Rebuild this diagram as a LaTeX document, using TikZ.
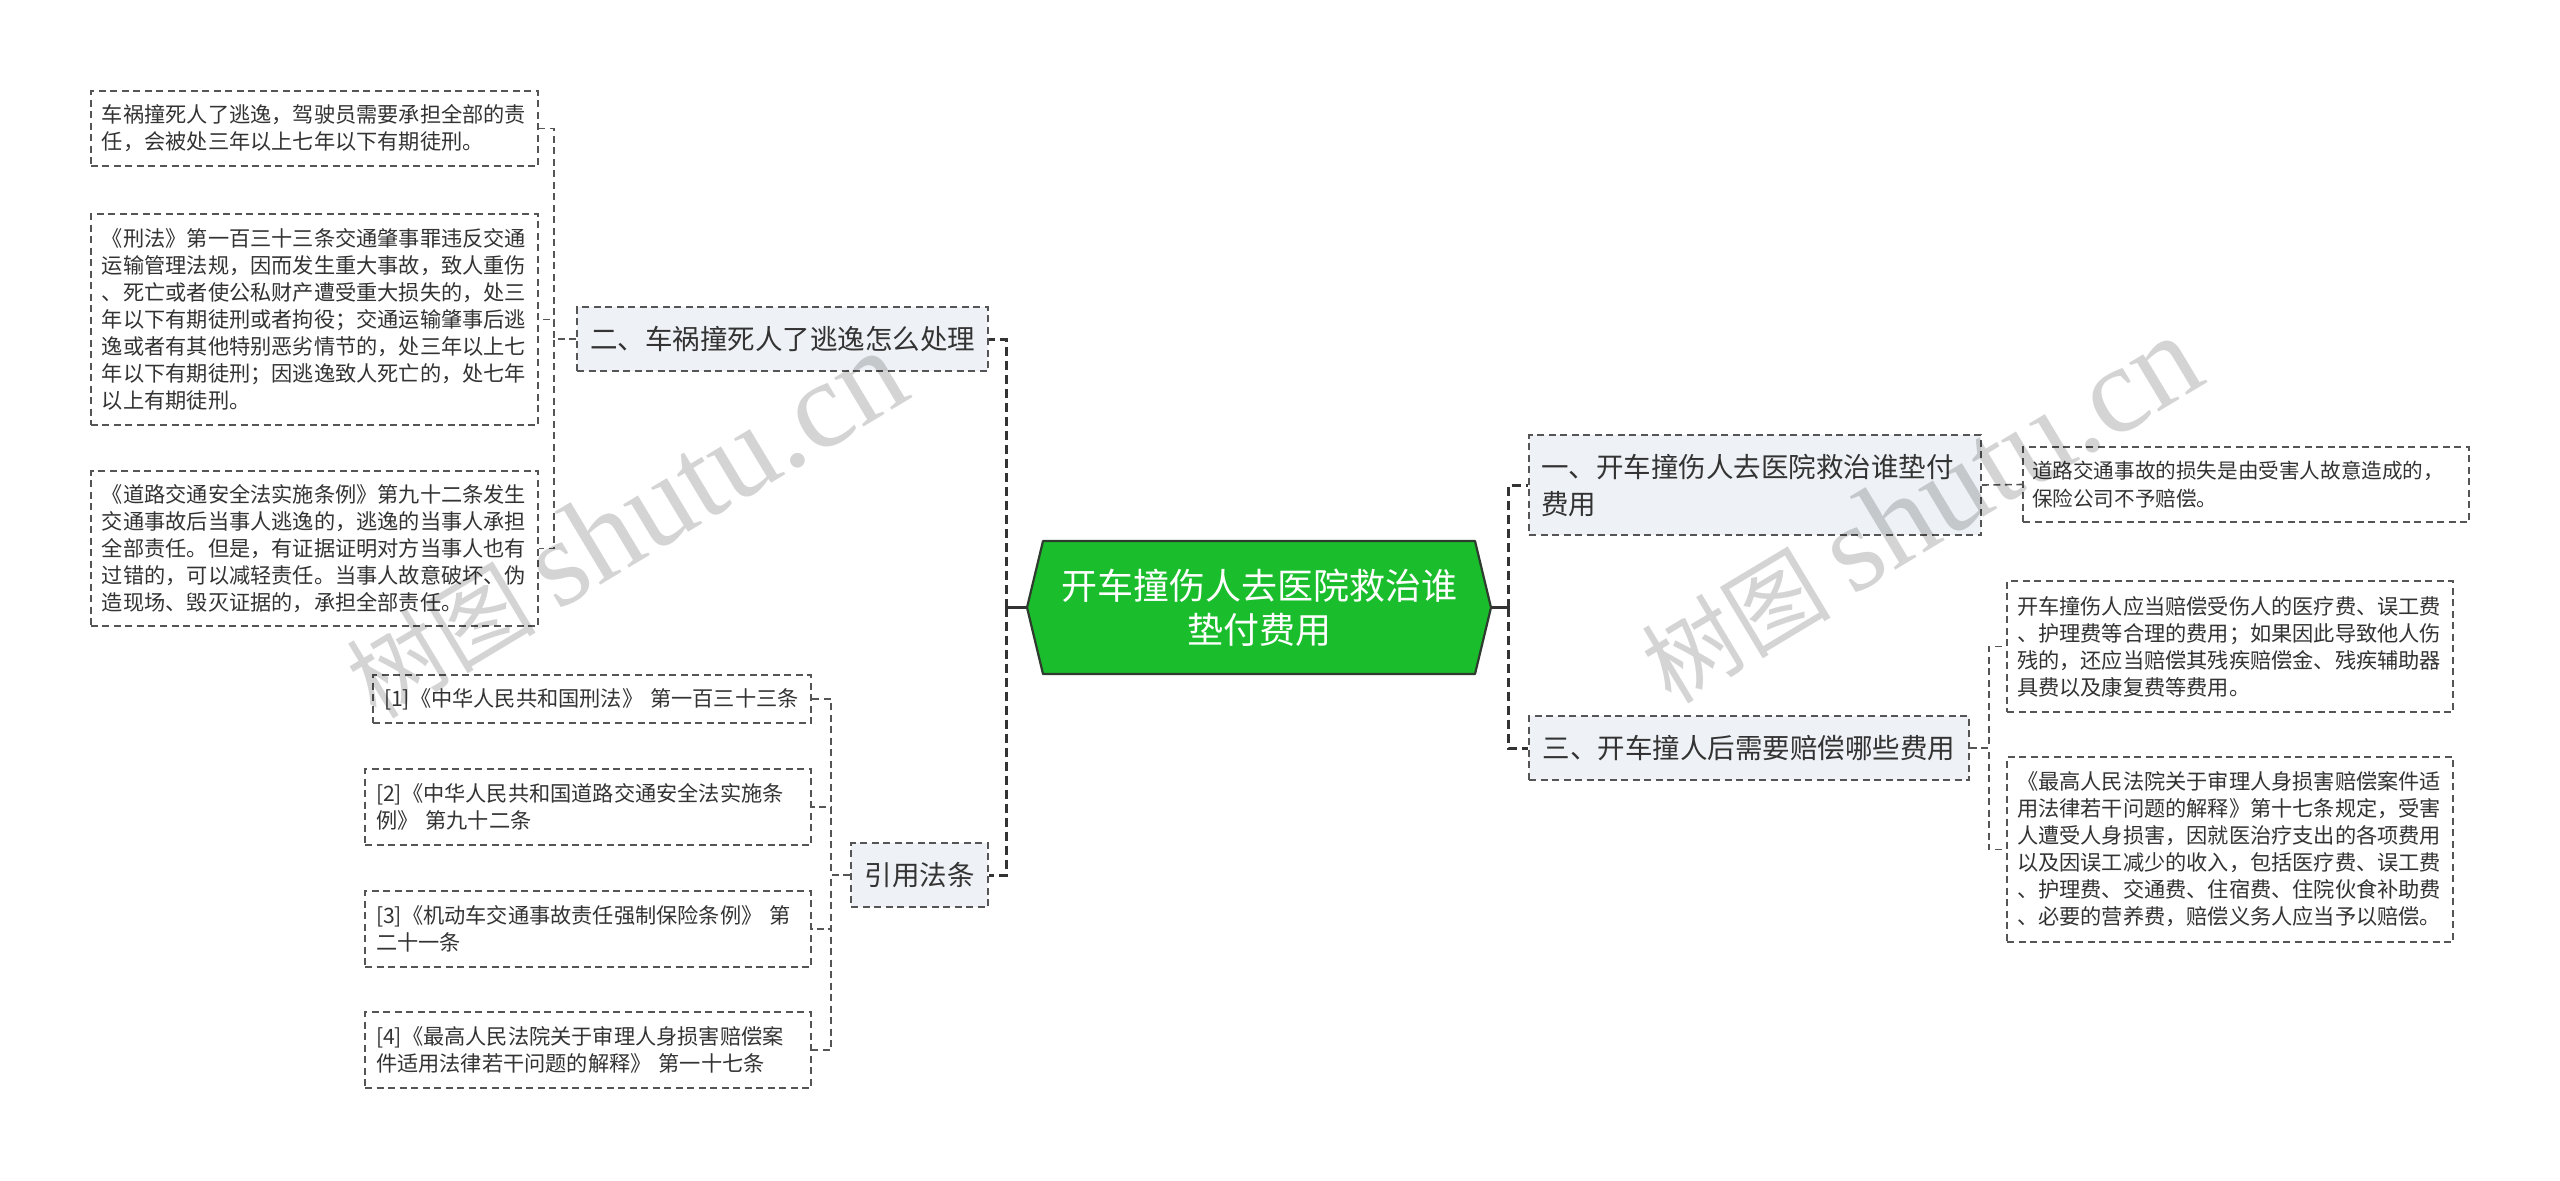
\documentclass[tikz,border=0pt]{standalone}
\usepackage{fontspec}
\setmainfont{Noto Sans CJK SC}
\newfontfamily\wmlatin{Liberation Serif}
\usetikzlibrary{calc}
\definecolor{lineclr}{HTML}{555555}
\definecolor{darkline}{HTML}{333333}
\definecolor{txtclr}{HTML}{333333}
\definecolor{branchfill}{HTML}{EEF1F5}
\definecolor{rootgreen}{HTML}{1ABE2C}
\definecolor{rootborder}{HTML}{2E3B2E}
\begin{document}
\begin{tikzpicture}[x=1bp,y=-1bp,
  leaf/.style={draw=lineclr, line width=1.6bp, dash pattern=on 7bp off 4.5bp, fill=white, text=txtclr, align=left, inner xsep=11bp, inner ysep=0bp, font=\fontsize{21.2bp}{27bp}\selectfont},
  branch/.style={draw=lineclr, line width=1.8bp, dash pattern=on 7bp off 4.5bp, fill=branchfill, text=txtclr, inner xsep=12bp, inner ysep=0bp, font=\fontsize{27.5bp}{37bp}\selectfont},
  lvl1/.style={draw=darkline, line width=3bp, dash pattern=on 9bp off 5bp},
  lvl2/.style={draw=lineclr, line width=1.6bp, dash pattern=on 7bp off 4.5bp},
  stub/.style={draw=darkline, line width=3bp},
  wm/.style={text=black, opacity=0.17, text opacity=0.17, rotate=31, inner sep=0bp}
]
\fill[white] (0,0) rectangle (2560,1180);
\useasboundingbox (0,0) rectangle (2560,1180);

% root
\coordinate (rc) at (1259,607.5);
\filldraw[fill=rootgreen, draw=rootborder, line width=2.2bp, line join=round]
  ($(rc)+(-216,-66.5)$) -- ($(rc)+(216,-66.5)$) -- ($(rc)+(232,0)$) --
  ($(rc)+(216,66.5)$) -- ($(rc)+(-216,66.5)$) -- ($(rc)+(-232,0)$) -- cycle;
\node[minimum width=464bp, minimum height=133bp, inner sep=0bp, text=white, align=center,
  font=\fontsize{36bp}{44bp}\selectfont] (root) at (rc) {开车撞伤人去医院救治谁\\垫付费用};

% branches
\node[branch, minimum width=411bp, minimum height=64bp] (b2) at (782.5,339) {二、车祸撞死人了逃逸怎么处理};
\node[branch, minimum width=137bp, minimum height=64bp] (b4) at (919.5,875) {引用法条};
\node[branch, text width=428bp, align=left, minimum height=100bp] (b1) at (1755,485) {一、开车撞伤人去医院救治谁垫付\\费用};
\node[branch, minimum width=440bp, minimum height=64bp] (b3) at (1749,748) {三、开车撞人后需要赔偿哪些费用};

% left leaves
\node[leaf, text width=425bp, minimum height=75bp] (lA) at (314.5,128.5) {车祸撞死人了逃逸，驾驶员需要承担全部的责\\任，会被处三年以上七年以下有期徒刑。};
\node[leaf, text width=425bp, minimum height=211bp] (lB) at (314.5,319.5) {《刑法》第一百三十三条交通肇事罪违反交通\\运输管理法规，因而发生重大事故，致人重伤\\、死亡或者使公私财产遭受重大损失的，处三\\年以下有期徒刑或者拘役；交通运输肇事后逃\\逸或者有其他特别恶劣情节的，处三年以上七\\年以下有期徒刑；因逃逸致人死亡的，处七年\\以上有期徒刑。};
\node[leaf, text width=425bp, minimum height=155bp] (lC) at (314.5,548.5) {《道路交通安全法实施条例》第九十二条发生\\交通事故后当事人逃逸的，逃逸的当事人承担\\全部责任。但是，有证据证明对方当事人也有\\过错的，可以减轻责任。当事人故意破坏、伪\\造现场、毁灭证据的，承担全部责任。};

% references
\node[leaf, text width=416bp, minimum height=48bp] (r1) at (592,699) {[1]《中华人民共和国刑法》 第一百三十三条};
\node[leaf, text width=424bp, minimum height=76bp] (r2) at (588,807) {[2]《中华人民共和国道路交通安全法实施条\\例》 第九十二条};
\node[leaf, text width=424bp, minimum height=76bp] (r3) at (588,929) {[3]《机动车交通事故责任强制保险条例》 第\\二十一条};
\node[leaf, text width=424bp, minimum height=76bp] (r4) at (588,1050) {[4]《最高人民法院关于审理人身损害赔偿案\\件适用法律若干问题的解释》 第一十七条};

% right leaves
\node[leaf, text width=428bp, inner xsep=9bp, minimum height=75bp, font=\fontsize{20.6bp}{28bp}\selectfont] (l1a) at (2246,484.5) {道路交通事故的损失是由受害人故意造成的，\\保险公司不予赔偿。};
\node[leaf, text width=426bp, inner xsep=10bp, minimum height=131bp] (l3a) at (2230,646.5) {开车撞伤人应当赔偿受伤人的医疗费、误工费\\、护理费等合理的费用；如果因此导致他人伤\\残的，还应当赔偿其残疾赔偿金、残疾辅助器\\具费以及康复费等费用。};
\node[leaf, text width=426bp, inner xsep=10bp, minimum height=185bp] (l3b) at (2230,849.5) {《最高人民法院关于审理人身损害赔偿案件适\\用法律若干问题的解释》第十七条规定，受害\\人遭受人身损害，因就医治疗支出的各项费用\\以及因误工减少的收入，包括医疗费、误工费\\、护理费、交通费、住宿费、住院伙食补助费\\、必要的营养费，赔偿义务人应当予以赔偿。};

% root connectors
\coordinate (rsL) at ($(root.west)+(-20,0)$);
\coordinate (rsR) at ($(root.east)+(17,0)$);
\draw[lvl1] (rsL) |- (b2.east);
\draw[lvl1] (rsL) |- (b4.east);
\draw[lvl1] (rsR) |- (b1.west);
\draw[lvl1] (rsR) |- (b3.west);
\draw[stub] (root.west) -- (rsL);
\draw[stub] (root.east) -- (rsR);

% level 2 connectors
\draw[lvl2] (b2.west) -- ++(-22,0) |- (lA.east);
\draw[lvl2] (b2.west) -- ++(-22,0) |- (lB.east);
\draw[lvl2] (b2.west) -- ++(-22,0) |- (lC.east);
\draw[lvl2] (b4.west) -- ++(-19,0) |- (r1.east);
\draw[lvl2] (b4.west) -- ++(-19,0) |- (r2.east);
\draw[lvl2] (b4.west) -- ++(-19,0) |- (r3.east);
\draw[lvl2] (b4.west) -- ++(-19,0) |- (r4.east);
\draw[lvl2] (b1.east) -- (l1a.west);
\draw[lvl2] (b3.east) -- ++(19,0) |- (l3a.west);
\draw[lvl2] (b3.east) -- ++(19,0) |- (l3b.west);

% watermarks
\node[wm] (wm1) at (625,525) {\fontsize{95bp}{95bp}\selectfont 树图 {\wmlatin\fontsize{124bp}{124bp}\selectfont shutu.cn}};
\node[wm] (wm2) at (1920,510) {\fontsize{95bp}{95bp}\selectfont 树图 {\wmlatin\fontsize{124bp}{124bp}\selectfont shutu.cn}};
\end{tikzpicture}
\end{document}
